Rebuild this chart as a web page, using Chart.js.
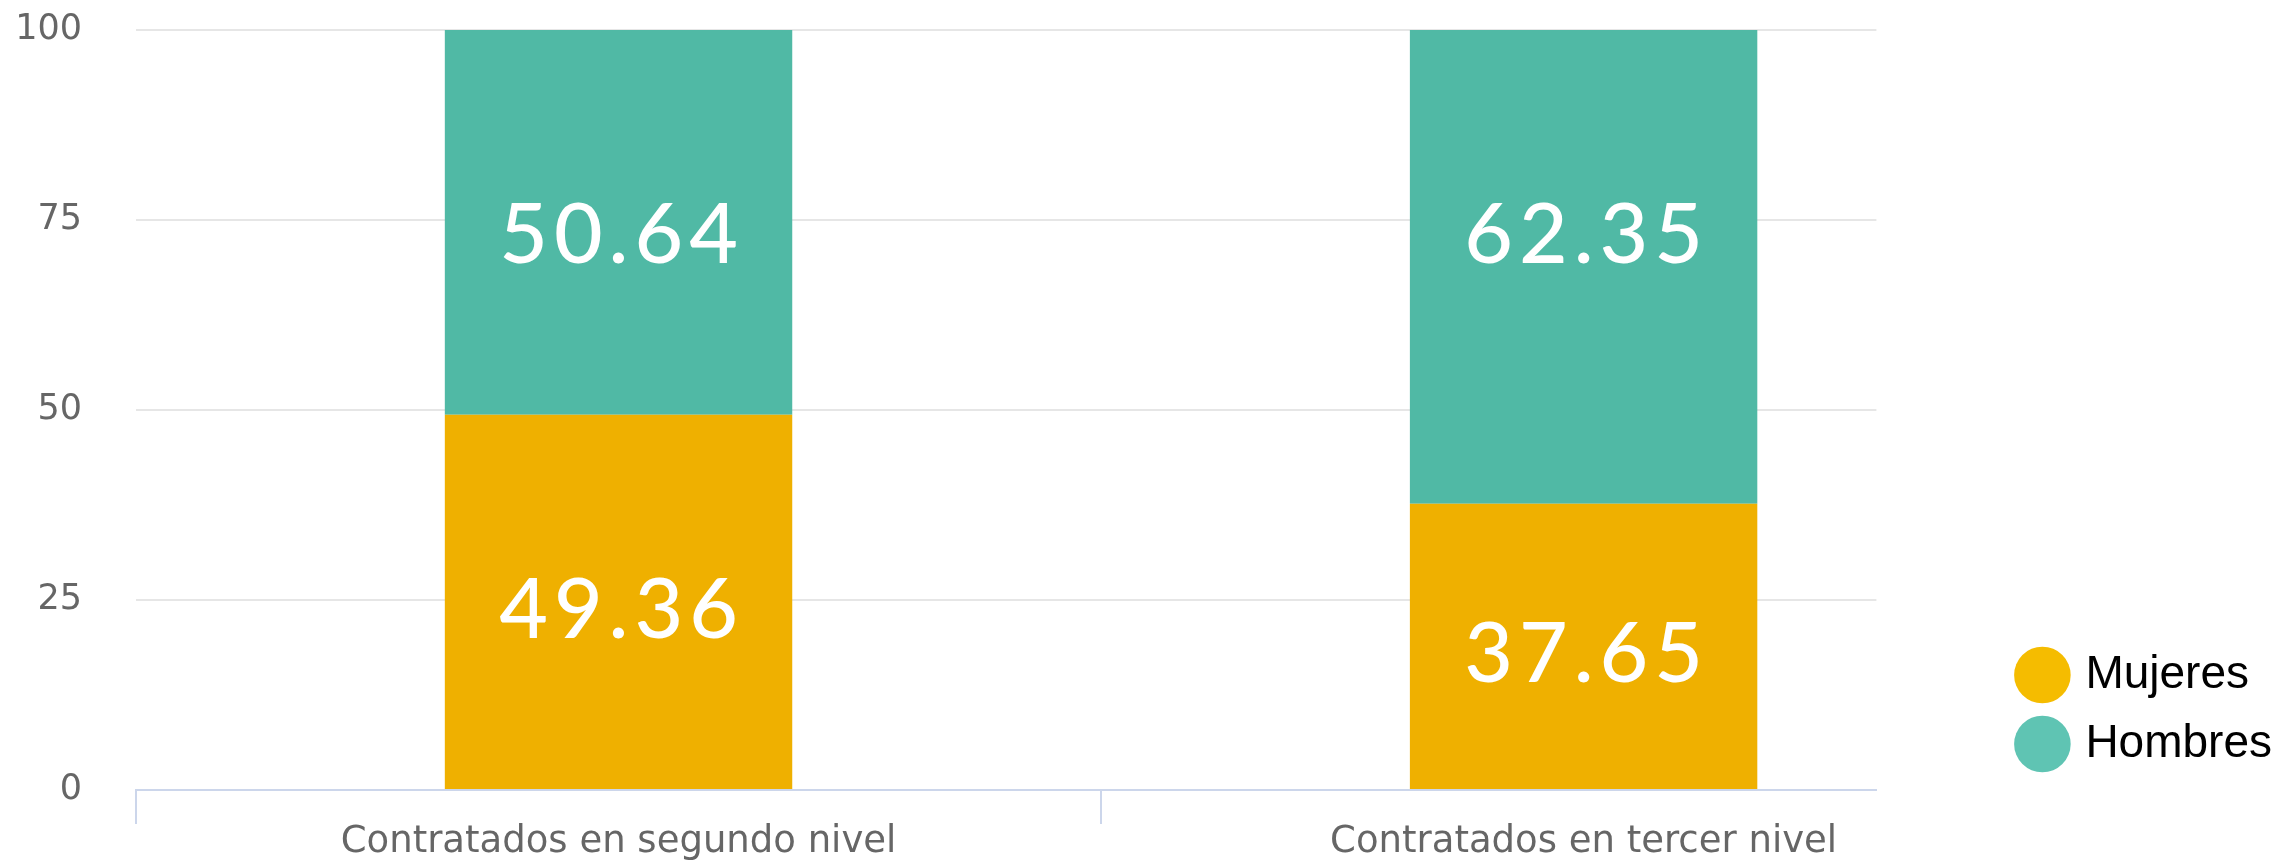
<!DOCTYPE html>
<html lang="es">
<head>
<meta charset="utf-8">
<title>Contratados por sexo</title>
<script src="https://cdn.jsdelivr.net/npm/chart.js@4/dist/chart.umd.min.js"></script>
<style>
  html, body { margin: 0; padding: 0; background: #fff; }
  #contenedor { width: 2282px; height: 861px; position: relative; }
</style>
</head>
<body>
<div id="contenedor"><canvas id="grafico"></canvas></div>
<script>
const categorias = ['Contratados en segundo nivel', 'Contratados en tercer nivel'];
const mujeres = [49.36, 37.65];
const hombres = [50.64, 62.35];
const ticksY = [0, 25, 50, 75, 100];

const colorMujeres = '#efb000';
const colorHombres = '#50b9a5';
const coloresLeyenda = ['#f5bc00', '#5fc4b3'];
const gris = '#666666';
const ejeAzul = '#ccd6eb';

// etiquetas blancas dentro de cada tramo de barra
const etiquetasValor = {
  id: 'etiquetasValor',
  afterDatasetsDraw(chart) {
    const ctx = chart.ctx;
    ctx.save();
    ctx.fillStyle = '#ffffff';
    ctx.font = '500 84px Lato';
    ctx.letterSpacing = '6px';
    ctx.textAlign = 'center';
    ctx.textBaseline = 'alphabetic';
    chart.data.datasets.forEach((ds, di) => {
      const meta = chart.getDatasetMeta(di);
      meta.data.forEach((bar, i) => {
        const valor = ds.data[i].y;
        let base;
        if (di === 1) {
          base = bar.y + 233;            // tramo superior: cerca de la parte alta
        } else {
          base = (bar.y + bar.base) / 2 + 36;
        }
        ctx.fillText(valor.toFixed(2), bar.x + 3, base);
      });
    });
    ctx.restore();
  }
};

new Chart(document.getElementById('grafico'), {
  type: 'bar',
  data: {
    datasets: [
      {
        label: 'Mujeres',
        data: mujeres.map((v, i) => ({ x: i, y: v })),
        backgroundColor: colorMujeres,
        barPercentage: 0.72,
        categoryPercentage: 1
      },
      {
        label: 'Hombres',
        data: hombres.map((v, i) => ({ x: i, y: v })),
        backgroundColor: colorHombres,
        barPercentage: 0.72,
        categoryPercentage: 1
      }
    ]
  },
  options: {
    responsive: true,
    maintainAspectRatio: false,
    animation: false,
    layout: { padding: { top: 30, left: 16, right: 0, bottom: 0 } },
    plugins: {
      tooltip: { enabled: false },
      legend: {
        position: 'right',
        align: 'end',
        fullSize: false,
        labels: {
          usePointStyle: true,
          boxWidth: 40,
          boxHeight: 40,
          padding: 23,
          color: '#000000',
          font: { family: '"Liberation Sans", Arial, sans-serif', size: 46 },
          generateLabels: (chart) => chart.data.datasets.map((ds, i) => ({
            text: ds.label,
            fillStyle: coloresLeyenda[i],
            strokeStyle: coloresLeyenda[i],
            lineWidth: 0,
            pointStyle: 'circle',
            datasetIndex: i,
            hidden: false
          }))
        }
      }
    },
    scales: {
      x: {
        type: 'linear',
        stacked: true,
        offset: false,
        min: -0.5,
        max: 1.3034,
        afterBuildTicks: (axis) => {
          axis.ticks = [-0.5, 0, 0.5, 1].map(v => ({ value: v }));
        },
        grid: {
          offset: false,
          drawOnChartArea: false,
          tickLength: 34,
          lineWidth: 2,
          color: (c) => (c.tick && Number.isInteger(c.tick.value)) ? 'rgba(0,0,0,0)' : ejeAzul
        },
        border: { color: ejeAzul, width: 2 },
        ticks: {
          autoSkip: false,
          maxRotation: 0,
          padding: 0,
          color: gris,
          font: { family: '"DejaVu Sans", sans-serif', size: 37, lineHeight: 1.0 },
          callback: (v) => Number.isInteger(v) ? categorias[v] : ''
        }
      },
      y: {
        stacked: true,
        min: 0,
        max: 100,
        afterBuildTicks: (axis) => {
          axis.ticks = ticksY.map(v => ({ value: v }));
        },
        afterFit: (s) => {
          s.width = 120;
          s.paddingTop = 21;
          s.paddingBottom = 21;
        },
        grid: {
          drawTicks: false,
          lineWidth: 2,
          color: (c) => (c.tick && c.tick.value === 0) ? 'rgba(0,0,0,0)' : '#e6e6e6'
        },
        border: { display: false },
        ticks: {
          padding: 54,
          color: gris,
          font: { family: '"DejaVu Sans", sans-serif', size: 35 }
        }
      },
      // espacio vacío entre el área de dibujo y la leyenda
      derecha: {
        type: 'linear',
        position: 'right',
        display: true,
        grid: { display: false },
        border: { display: false },
        ticks: { display: false },
        afterFit: (s) => { s.width = 123; }
      }
    }
  },
  plugins: [etiquetasValor]
});
</script>
</body>
</html>
